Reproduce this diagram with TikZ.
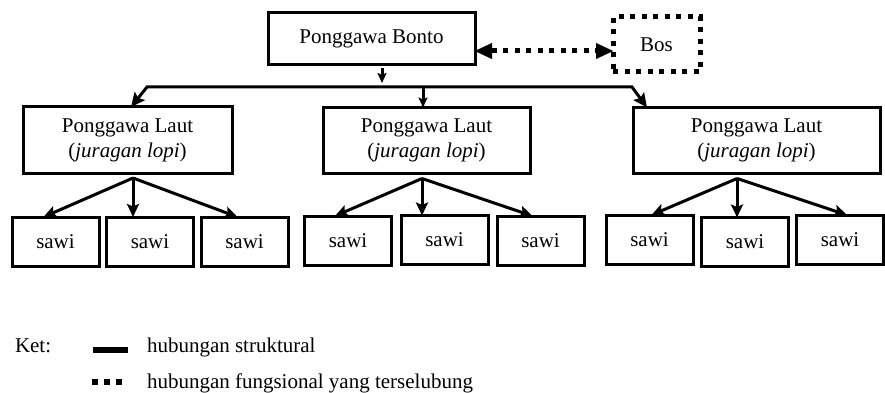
\documentclass[tikz,border=0pt]{standalone}
\usepackage{fontspec}
\setmainfont{Liberation Serif}
\usetikzlibrary{arrows.meta,calc}

\begin{document}
\begin{tikzpicture}[y=1pt, x=1pt, yscale=-1, inner sep=0pt, outer sep=0pt,
  font=\fontsize{21}{25}\selectfont,
  box/.style={draw=black, line width=3pt, align=center},
  sawibox/.style={box, minimum width=87pt, minimum height=49pt},
  lautbox/.style={box, minimum height=66pt},
  struk/.style={draw=black, line width=3pt, line join=miter},
  tip/.style={-{Stealth[length=13pt,width=12pt,inset=2.5pt]}},
  smalltip/.style={-{Stealth[length=10pt,width=9pt,inset=2pt]}},
  fung/.style={draw=black, line width=5pt, dash pattern=on 5pt off 6.5pt}]
\useasboundingbox (0,0) rectangle (885,393);

  % top level
  \path (371.5,39) node[box, minimum width=207pt, minimum height=52pt] (bonto) {Ponggawa Bonto};
  \path (656.5,44.5) node[fung, minimum width=87pt, minimum height=55pt] (bos) {Bos};
  \draw[fung, {Triangle[length=17pt,width=16pt,line width=0.1pt]}-{Triangle[length=17pt,width=16pt,line width=0.1pt]}]
    ([yshift=12pt]bonto.east) -- ([yshift=12pt]bonto.east -| bos.west);

  % ponggawa laut
  \path (127.5,140) node[lautbox, minimum width=209pt] (lautL) {Ponggawa Laut\\(\textit{juragan lopi})};
  \path (426.5,140.5) node[lautbox, minimum width=207pt] (lautM) {Ponggawa Laut\\(\textit{juragan lopi})};
  \path (756.5,140.5) node[lautbox, minimum width=247pt] (lautR) {Ponggawa Laut\\(\textit{juragan lopi})};

  \coordinate (busL) at (147,87);
  \coordinate (busR) at (632,87);
  \draw[struk, smalltip, shorten >=4pt] ([xshift=10.5pt,yshift=3pt]bonto.south) -- ([xshift=10.5pt]bonto.south |- busL);
  \draw[struk, {Stealth[length=14pt,width=13pt,inset=2.5pt]}-{Stealth[length=14pt,width=13pt,inset=2.5pt]}]
    ([xshift=3.5pt]lautL.north) -- (busL) -- (busR) -- ([xshift=14pt]lautR.north west);
  \draw[struk, smalltip] ([xshift=-3.5pt]lautM.north |- busL) -- ([xshift=-3.5pt]lautM.north);

  % sawi
  \path (55.5,241.5) node[sawibox] (sL1) {sawi};
  \path (150,241.5) node[sawibox] (sL2) {sawi};
  \path (244.5,241.5) node[sawibox] (sL3) {sawi};
  \path (348,240.5) node[sawibox] (sM1) {sawi};
  \path (444.5,240) node[sawibox] (sM2) {sawi};
  \path (540.5,240.5) node[sawibox] (sM3) {sawi};
  \path (649.5,239.5) node[sawibox] (sR1) {sawi};
  \path (745,242) node[sawibox] (sR2) {sawi};
  \path (840,239.5) node[sawibox] (sR3) {sawi};

  \coordinate (oL) at ([xshift=5.5pt,yshift=5pt]lautL.south);
  \coordinate (oM) at ([xshift=-4.5pt,yshift=5pt]lautM.south);
  \coordinate (oR) at ([xshift=-19.5pt,yshift=5pt]lautR.south);
  \draw[struk, tip] (oL) -- ([xshift=-12pt]sL1.north);
  \draw[struk, tip] (oL) -- (oL |- sL2.north);
  \draw[struk, tip] (oL) -- ([xshift=-7pt]sL3.north);
  \draw[struk, tip] (oM) -- ([xshift=-13pt]sM1.north);
  \draw[struk, tip] (oM) -- (oM |- sM2.north);
  \draw[struk, tip] (oM) -- ([xshift=-8pt]sM3.north);
  \draw[struk, tip] (oR) -- ([xshift=2pt]sR1.north);
  \draw[struk, tip] (oR) -- (oR |- sR2.north);
  \draw[struk, tip] (oR) -- ([xshift=7pt]sR3.north);

  % keterangan
  \path (15,352) node[anchor=base west] (ket) {Ket:};
  \path (147,352) node[anchor=base west] (ketA) {hubungan struktural};
  \path (147,388) node[anchor=base west] (ketB) {hubungan fungsional yang terselubung};
  \draw[line width=6pt] (93,350) -- (128,350);
  \draw[line width=6pt, dash pattern=on 6pt off 6pt] (92,382) -- (122,382);
\end{tikzpicture}
\end{document}
